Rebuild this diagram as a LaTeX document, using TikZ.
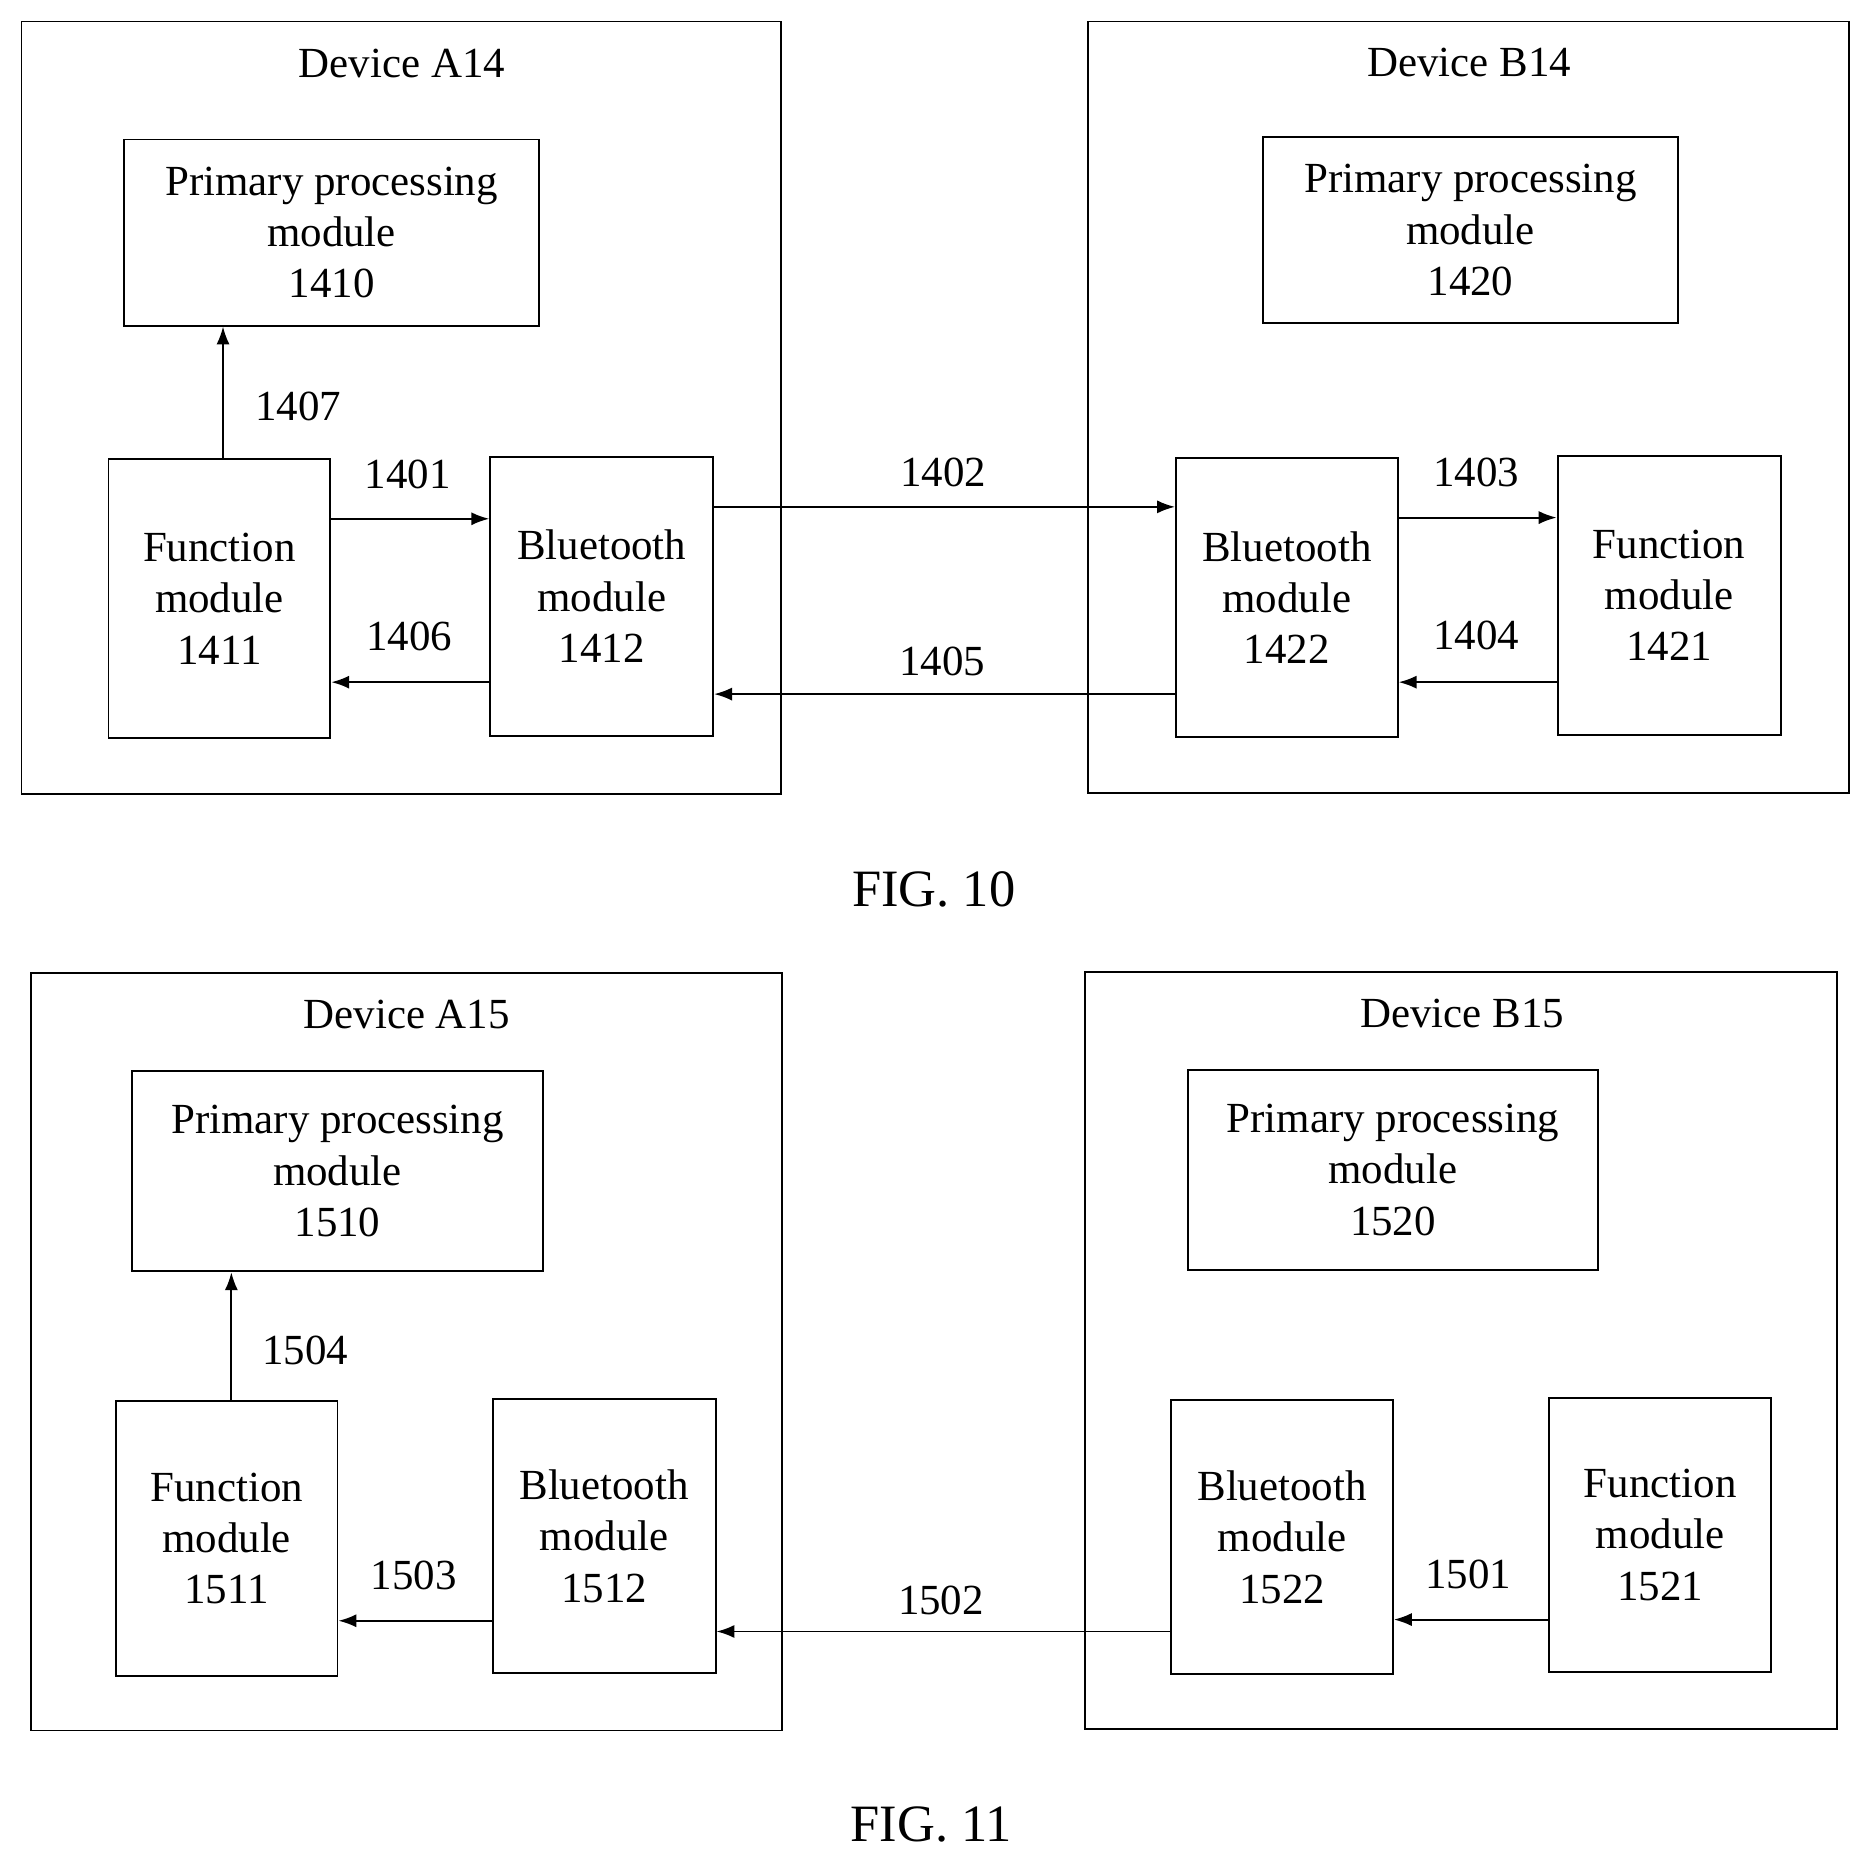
\documentclass[tikz,border=0pt]{standalone}
\usepackage{fontspec}
\setmainfont{Liberation Serif}
\usetikzlibrary{arrows.meta}

\tikzset{
    box/.style={draw, line width=1.6pt, align=center, inner sep=0pt},
    dev/.style={draw, line width=1.6pt},
    arr/.style={line width=1.6pt, -{Latex[length=15pt,width=11pt]}},
    lbl/.style={inner sep=0pt}
}

\begin{document}
\begin{tikzpicture}[x=1pt, y=-1pt, font=\fontsize{36}{43}\selectfont]
    \useasboundingbox (0,0) rectangle (1568,1565);

    % FIG. 10
    \draw[dev] (18,18) rectangle (655,666);
    \node[lbl] (tA14) at (337,53) {Device A14};
    \draw[dev] (912,18) rectangle (1550,665);
    \node[lbl] (tB14) at (1232,52) {Device B14};

    \node[box, minimum width=348pt, minimum height=156pt] (p1410) at (278,195) {Primary processing\\module\\1410};
    \node[box, minimum width=186pt, minimum height=234pt] (f1411) at (184,502) {Function\\module\\1411};
    \node[box, minimum width=187pt, minimum height=234pt] (b1412) at (504.5,500) {Bluetooth\\module\\1412};
    \node[box, minimum width=348pt, minimum height=156pt] (p1420) at (1233,193) {Primary processing\\module\\1420};
    \node[box, minimum width=186pt, minimum height=234pt] (b1422) at (1079,501) {Bluetooth\\module\\1422};
    \node[box, minimum width=187pt, minimum height=234pt] (f1421) at (1399.5,499) {Function\\module\\1421};

    \draw[arr] (f1411.north -| 187,0) -- (p1410.south -| 187,0);
    \node[lbl] (l1407) at (250,341) {1407};
    \draw[arr] (f1411.east |- 0,435) -- (b1412.west |- 0,435);
    \node[lbl] (l1401) at (342,398) {1401};
    \draw[arr] (b1412.west |- 0,572) -- (f1411.east |- 0,572);
    \node[lbl] (l1406) at (343,534) {1406};
    \draw[arr] (b1412.east |- 0,425) -- (b1422.west |- 0,425);
    \node[lbl] (l1402) at (791,396) {1402};
    \draw[arr] (b1422.west |- 0,582) -- (b1412.east |- 0,582);
    \node[lbl] (l1405) at (790,555) {1405};
    \draw[arr] (b1422.east |- 0,434) -- (f1421.west |- 0,434);
    \node[lbl] (l1403) at (1238,396) {1403};
    \draw[arr] (f1421.west |- 0,572) -- (b1422.east |- 0,572);
    \node[lbl] (l1404) at (1238,533) {1404};

    \node[lbl, font=\fontsize{44}{50}\selectfont] (fig10) at (783,746) {FIG. 10};

    % FIG. 11
    \draw[dev] (26,816) rectangle (656,1451);
    \node[lbl] (tA15) at (341,851) {Device A15};
    \draw[dev] (910,815) rectangle (1540,1450);
    \node[lbl] (tB15) at (1226,850) {Device B15};

    \node[box, minimum width=344pt, minimum height=168pt] (p1510) at (283,982) {Primary processing\\module\\1510};
    \node[box, minimum width=186pt, minimum height=230pt] (f1511) at (190,1290) {Function\\module\\1511};
    \node[box, minimum width=187pt, minimum height=230pt] (b1512) at (506.5,1288) {Bluetooth\\module\\1512};
    \node[box, minimum width=344pt, minimum height=168pt] (p1520) at (1168,981) {Primary processing\\module\\1520};
    \node[box, minimum width=186pt, minimum height=230pt] (b1522) at (1075,1289) {Bluetooth\\module\\1522};
    \node[box, minimum width=186pt, minimum height=230pt] (f1521) at (1392,1287) {Function\\module\\1521};

    \draw[arr] (f1511.north -| 194,0) -- (p1510.south -| 194,0);
    \node[lbl] (l1504) at (256,1132) {1504};
    \draw[arr] (b1512.west |- 0,1359) -- (f1511.east |- 0,1359);
    \node[lbl] (l1503) at (347,1321) {1503};
    \draw[arr] (b1522.west |- 0,1368) -- (b1512.east |- 0,1368);
    \node[lbl] (l1502) at (789,1342) {1502};
    \draw[arr] (f1521.west |- 0,1358) -- (b1522.east |- 0,1358);
    \node[lbl] (l1501) at (1231,1320) {1501};

    \node[lbl, font=\fontsize{44}{50}\selectfont] (fig11) at (781,1530) {FIG. 11};
\end{tikzpicture}
\end{document}
